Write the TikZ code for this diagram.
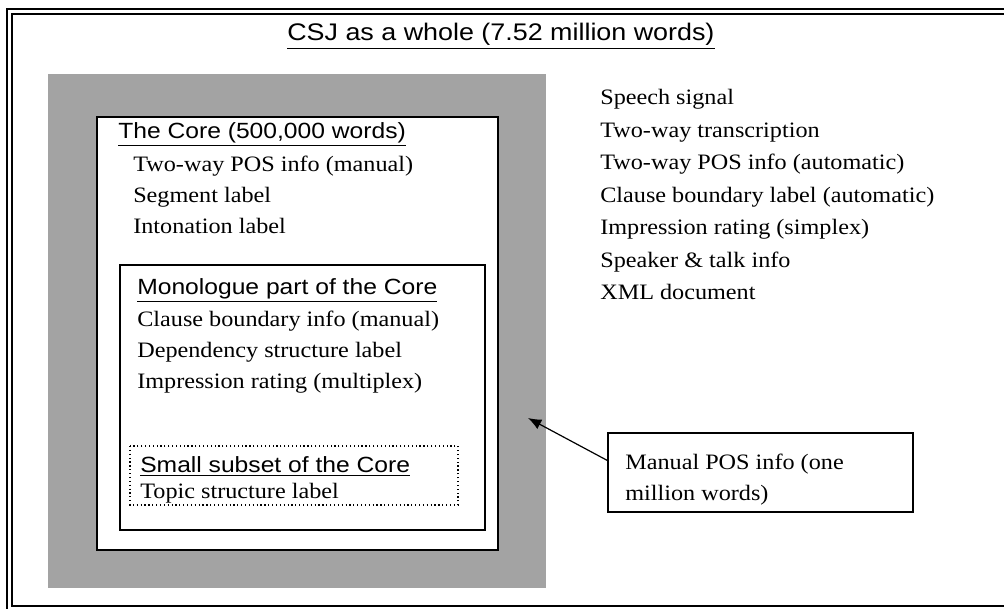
\documentclass[tikz,border=0pt]{standalone}
\usepackage{fontspec}
\setmainfont{Liberation Serif}
\setsansfont{Liberation Sans}
\usetikzlibrary{arrows.meta}
\tikzset{>={Latex[length=10pt,width=8pt]}}
\tikzset{
  head/.style={font=\sffamily\fontsize{16.5}{18}\selectfont, anchor=base west, inner sep=0pt, xscale=1.12, transform shape},
  item/.style={font=\fontsize{16.5}{18}\selectfont, anchor=base west, inner sep=0pt, xscale=1.1, transform shape},
  box/.style={draw, line width=1.2pt, fill=white},
}

\begin{document}
\begin{tikzpicture}[x=0.75pt, y=-0.75pt]
	\useasboundingbox (0,0) rectangle (1004,609);
	% outer frame (double line)
	\draw [line width=0.9pt] (7,9) rectangle (1015,612);
	\draw [line width=0.9pt] (12,14) rectangle (1010,606);
	\node (title) [head, font=\sffamily\fontsize{18}{20}\selectfont, xscale=1.0] at (287,41) {\underline{CSJ as a whole (7.52 million words)}};

	% shaded area and nested boxes
	\fill [black!36] (48,74) rectangle (546,588);
	\draw [box] (97,117) rectangle (498,550);
	\draw [box, line width=0.9pt] (120,265) rectangle (485,530);
	\draw [dotted, line width=0.9pt] (130,446) rectangle (458,505);

	\node (core) [head] at (118,139) {\underline{The Core (500,000 words)}};
	\node (c1) [item] at (133,172) {Two-way POS info (manual)};
	\node (c2) [item] at (133,203) {Segment label};
	\node (c3) [item] at (133,234) {Intonation label};

	\node (mono) [head] at (137,295) {\underline{Monologue part of the Core}};
	\node (m1) [item] at (137,327) {Clause boundary info (manual)};
	\node (m2) [item] at (137,358) {Dependency structure label};
	\node (m3) [item] at (137,389) {Impression rating (multiplex)};

	\node (small) [head] at (140,473) {\underline{Small subset of the Core}};
	\node (s1) [item] at (140,499) {Topic structure label};

	% whole corpus annotations
	\node (r1) [item] at (600,105) {Speech signal};
	\node (r2) [item] at (600,138) {Two-way transcription};
	\node (r3) [item] at (600,170) {Two-way POS info (automatic)};
	\node (r4) [item] at (600,203) {Clause boundary label (automatic)};
	\node (r5) [item] at (600,235) {Impression rating (simplex)};
	\node (r6) [item] at (600,268) {Speaker \& talk info};
	\node (r7) [item] at (600,300) {XML document};

	% manual POS callout
	\node (manual) [draw, line width=0.9pt, minimum width=228.75pt, minimum height=59.25pt, inner sep=0pt] at (760.5,472.5) {};
	\node (p1) [item] at (625,470) {Manual POS info (one};
	\node (p2) [item] at (625,501) {million words)};
	\coordinate (gray) at (528,418);
	\draw [->, line width=0.9pt] ([yshift=9pt]manual.west) -- (gray);
\end{tikzpicture}
\end{document}
